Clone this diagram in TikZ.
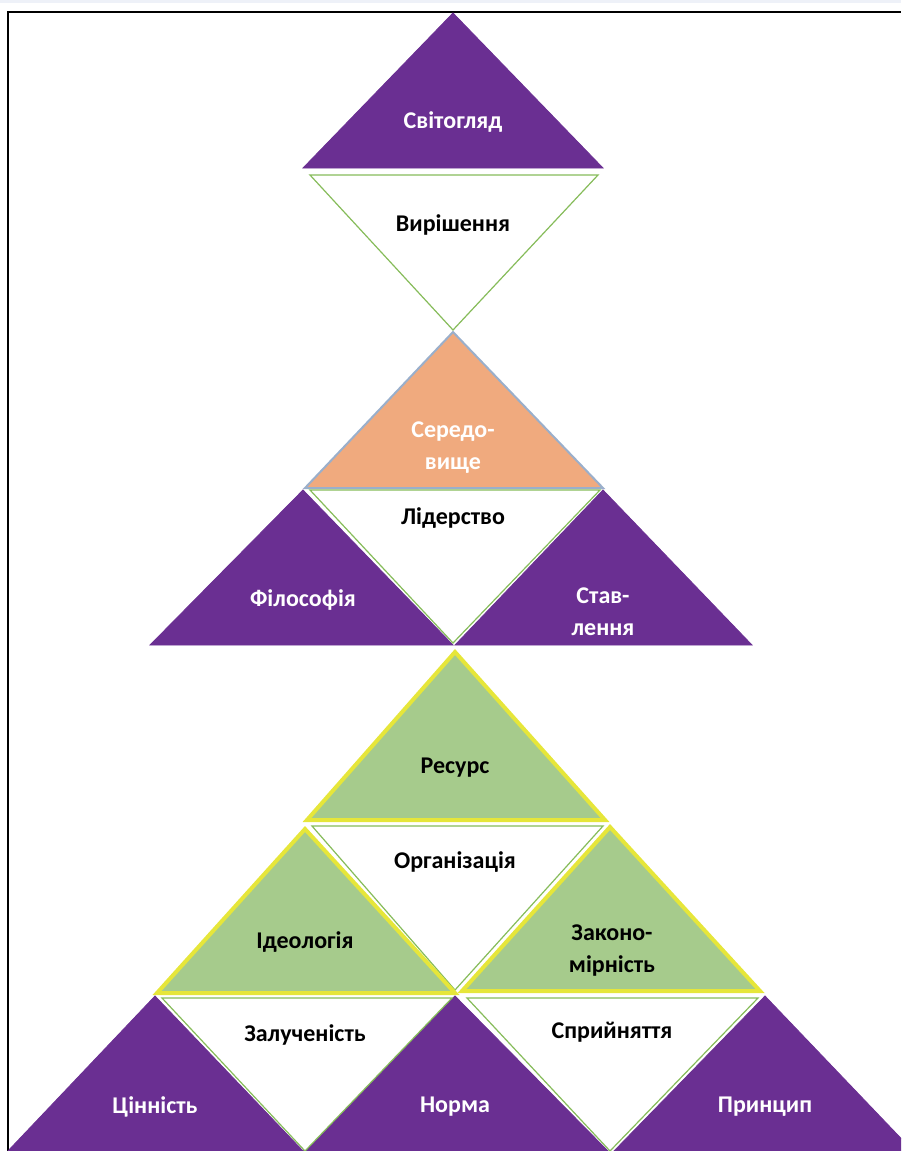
\documentclass[tikz,border=0pt]{standalone}
\usepackage{fontspec}
\setmainfont{Carlito}
\usepackage{tikz}
\usetikzlibrary{positioning}
\definecolor{plum}{HTML}{6A2F92}
\definecolor{peach}{HTML}{F0AA7E}
\definecolor{sage}{HTML}{A6CB8C}
\definecolor{lemon}{HTML}{E6E63A}
\definecolor{leaf}{HTML}{86BC5A}
\definecolor{steel}{HTML}{9AAFCB}
\definecolor{haze}{HTML}{EEF1F8}
\tikzset{darktri/.style={fill=plum,draw=plum,line width=.4pt},opentri/.style={fill=white,draw=leaf,line width=.6pt},greentri/.style={fill=sage,draw=lemon,line width=2pt},peachtri/.style={fill=peach,draw=steel,line width=1pt},light/.style={text=white,font=\fontsize{12}{16}\selectfont\bfseries,align=center},dark/.style={text=black,font=\fontsize{12}{16}\selectfont\bfseries,align=center}}

\begin{document}
\begin{tikzpicture}[x=0.5pt,y=-0.5pt]
\useasboundingbox (0,0) rectangle (901,1151);
\clip (0,0) rectangle (901,1151);
\fill[haze] (0,0) rectangle (901,3);
\draw[line width=1pt] (8,1151)--(8,12)--(901,12);
% top pair
\draw[darktri] (453,13)--(603,168)--(303,168)--cycle;
\draw[opentri] (310,175)--(598,175)--(453,330)--cycle;
% middle block
\draw[peachtri] (453,332)--(603,488)--(305,488)--cycle;
\draw[darktri] (303,490)--(453,645)--(150,645)--cycle;
\draw[darktri] (603,490)--(752,645)--(455,645)--cycle;
\draw[opentri] (310,490)--(600,490)--(453,643)--cycle;
% green block
\draw[greentri] (455,652)--(605,820)--(307,820)--cycle;
\draw[opentri] (312,826)--(603,826)--(455,990)--cycle;
\draw[greentri] (305,829)--(455,993)--(157,993)--cycle;
\draw[greentri] (610,827)--(760,991)--(462,991)--cycle;
% bottom row
\draw[darktri] (155,996)--(305,1153)--(6,1153)--cycle;
\draw[darktri] (455,996)--(610,1153)--(300,1153)--cycle;
\draw[darktri] (765,996)--(915,1153)--(612,1153)--cycle;
\draw[opentri] (162,998)--(452,998)--(305,1151)--cycle;
\draw[opentri] (467,998)--(758,998)--(610,1151)--cycle;
% labels
\node[light] (svitohliad) at (453,122) {Світогляд};
\node[dark] (vyrishennia) at (453,225) {Вирішення};
\node[light] (seredovyshche) at (453,448) {Середо-\\вище};
\node[dark] (liderstvo) at (453,518) {Лідерство};
\node[light] (filosofiia) at (303,600) {Філософія};
\node[light] (stavlennia) at (603,612) {Став-\\лення};
\node[dark] (resurs) at (455,768) {Ресурс};
\node[dark] (orhanizatsiia) at (455,862) {Організація};
\node[dark] (ideolohiia) at (305,942) {Ідеологія};
\node[dark] (zakonomirnist) at (612,951) {Законо-\\мірність};
\node[dark] (zaluchenist) at (305,1035) {Залученість};
\node[dark] (spryiniattia) at (612,1032) {Сприйняття};
\node[light] (tsinnist) at (155,1107) {Цінність};
\node[light] (norma) at (455,1107) {Норма};
\node[light] (pryntsyp) at (765,1107) {Принцип};
\end{tikzpicture}
\end{document}
